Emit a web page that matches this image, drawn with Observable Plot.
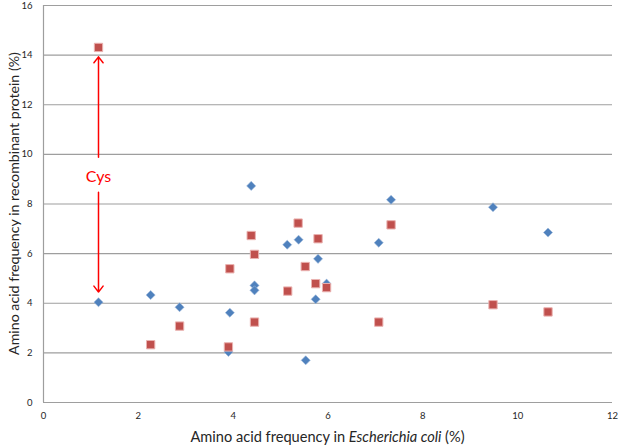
<!DOCTYPE html>
<html><head><meta charset="utf-8">
<script src="https://cdn.jsdelivr.net/npm/d3@7"></script>
<script src="https://cdn.jsdelivr.net/npm/@observablehq/plot@0.6"></script>
<style>
body{margin:0;background:#fff;}
#chart svg{display:block;}
</style>
</head><body><div id="chart"></div>
<script>
// Amino acid frequency in E. coli (%) — shared x for both series
const ecoliFreq = [1.16, 2.26, 2.87, 3.93, 3.90, 4.38, 4.45, 4.45, 5.14, 5.38, 5.53, 5.74, 5.79, 5.97, 7.07, 7.33, 9.48, 10.64];
// Blue diamonds: frequency in recombinant protein (%)
const seriesBlue = [4.04, 4.33, 3.84, 3.62, 2.04, 8.73, 4.72, 4.52, 6.36, 6.56, 1.70, 4.16, 5.79, 4.79, 6.44, 8.17, 7.87, 6.85];
// Red squares: x and frequency in recombinant protein (%)
const ecoliFreqRed = [1.16, 2.26, 2.87, 3.93, 3.90, 4.38, 4.45, 4.45, 5.15, 5.37, 5.52, 5.74, 5.79, 5.97, 7.07, 7.33, 9.48, 10.64];
const seriesRed = [14.31, 2.33, 3.08, 5.39, 2.24, 6.73, 5.97, 3.24, 4.49, 7.23, 5.48, 4.79, 6.60, 4.63, 3.24, 7.16, 3.94, 3.65];
const xTicks = [0, 2, 4, 6, 8, 10, 12];
const yTicks = [0, 2, 4, 6, 8, 10, 12, 14, 16];
const cysLabel = "Cys";
const cysX = 1.16;
const cysLabelY = 9.08;
const cysArrows = [{y1: 9.88, y2: 13.93}, {y1: 8.47, y2: 4.45}];
const xTitleParts = ["Amino acid frequency in ", "Escherichia coli", " (%)"];
const yTitle = "Amino acid frequency in recombinant protein (%)";

const blue = ecoliFreq.map((x, i) => ({x, y: seriesBlue[i]}));
const red = ecoliFreqRed.map((x, i) => ({x, y: seriesRed[i]}));

const W = 619, H = 447, mL = 43, mR = 7, mT = 5, mB = 45;
const font = "Lato, 'Open Sans', sans-serif";

const plot = Plot.plot({
  width: W, height: H,
  marginLeft: mL, marginRight: mR, marginTop: mT, marginBottom: mB,
  style: {fontFamily: font, fontSize: "9.5px", color: "#262626", background: "#fff"},
  x: {domain: [0, 12], ticks: xTicks},
  y: {domain: [0, 16], ticks: yTicks},
  marks: [
    Plot.ruleY(yTicks, {stroke: "#9e9e9e", strokeWidth: 1.2}),
    Plot.ruleX([0], {stroke: "#9e9e9e", strokeWidth: 1.2}),
    Plot.axisX({ticks: xTicks, tickSize: 0, tickPadding: 10, label: null, fill: "#262626"}),
    Plot.axisY({ticks: yTicks, tickSize: 0, tickPadding: 11, label: null, fill: "#262626"}),
    Plot.dot(blue, {x: "x", y: "y", symbol: "diamond2", r: 4.1, fill: "#4f81bd", stroke: "#9db8da", strokeWidth: 0.6}),
    Plot.dot(red, {x: "x", y: "y", symbol: "square", r: 4.7, fill: "#c0504d", stroke: "#eab2b0", strokeWidth: 1}),
    Plot.arrow(cysArrows, {x1: () => cysX, x2: () => cysX, y1: "y1", y2: "y2", stroke: "#ff0000", strokeWidth: 1.5, headLength: 7.5, headAngle: 75}),
    Plot.text([cysLabel], {x: () => cysX, y: () => cysLabelY, text: d => d, fill: "#ff0000", fontSize: 16, fontFamily: font})
  ]
});

const svg = d3.select(plot);
const cx = (mL + W - mR) / 2;
const xt = svg.append("text")
  .attr("x", cx).attr("y", H - 5)
  .attr("text-anchor", "middle")
  .attr("font-size", 14.6).attr("fill", "#262626").attr("font-family", font);
xt.append("tspan").text(xTitleParts[0]);
xt.append("tspan").attr("font-style", "italic").text(xTitleParts[1]);
xt.append("tspan").text(xTitleParts[2]);

svg.append("text")
  .attr("transform", `translate(19,${(mT + H - mB) / 2}) rotate(-90)`)
  .attr("text-anchor", "middle")
  .attr("font-size", 14.2).attr("fill", "#262626").attr("font-family", font)
  .text(yTitle);

document.getElementById("chart").appendChild(plot);
</script>
</body></html>
